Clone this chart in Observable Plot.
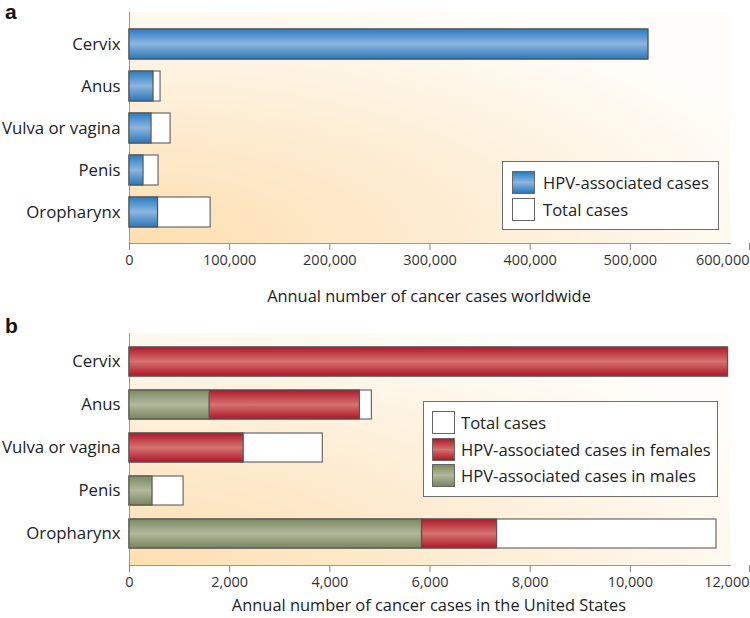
<!DOCTYPE html>
<html><head><meta charset="utf-8">
<script src="https://cdn.jsdelivr.net/npm/d3@7"></script>
<script src="https://cdn.jsdelivr.net/npm/@observablehq/plot@0.6"></script>
<style>
body{margin:0;background:#fff;font-family:"Open Sans",sans-serif;}
#wrap{position:relative;width:750px;height:618px;overflow:hidden;background:#fff}
.panel{position:absolute;left:0;width:750px}
.letter{position:absolute;font-family:"Liberation Sans",Arial,sans-serif;font-weight:bold;font-size:21px;color:#111;line-height:1}
.title{position:absolute;left:129px;width:600px;text-align:center;font-size:16.4px;color:#222;line-height:1}
.legend{position:absolute;background:#fff;border:1px solid #6e6e6e;box-sizing:border-box}
.row{position:absolute;height:23px;display:flex;align-items:center;font-size:16.6px;color:#222;white-space:nowrap}
.sw{width:21px;height:21px;border:1px solid #666;flex:none}
</style></head>
<body><div id="wrap"></div>
<script>
const categories = ["Cervix","Anus","Vulva or vagina","Penis","Oropharynx"];
// Panel a: worldwide
const worldHPV   = [518000, 24000, 22000, 14000, 28500];
const worldTotal = [518000, 31000, 41000, 29000, 81000];
const worldTicks = [0,100000,200000,300000,400000,500000,600000];
// Panel b: United States
const usMales   = [0, 1600, 0, 460, 5840];
const usFemales = [11950, 3000, 2280, 0, 1500];
const usTotal   = [11950, 4840, 3860, 1080, 11720];
const usTicks   = [0,2000,4000,6000,8000,10000,12000];

const titleA = "Annual number of cancer cases worldwide";
const titleB = "Annual number of cancer cases in the United States";
const legendA = ["HPV-associated cases","Total cases"];
const legendB = ["Total cases","HPV-associated cases in females","HPV-associated cases in males"];

const tableA = categories.map((c,i)=>({cat:c, hpv:worldHPV[i], total:worldTotal[i]}));
const tableB = categories.map((c,i)=>({cat:c, male:usMales[i], femaleEnd:usMales[i]+usFemales[i], female:usFemales[i], total:usTotal[i]}));

function defs(prefix){
  return () => {
    const g = document.createElementNS("http://www.w3.org/2000/svg","g");
    g.innerHTML = `<defs>
      <radialGradient id="${prefix}bg" cx="0" cy="1" r="1.15" fx="0" fy="1">
        <stop offset="0" stop-color="#fddfb0"/>
        <stop offset="0.5" stop-color="#fdedd4"/>
        <stop offset="1" stop-color="#fffdf9"/>
      </radialGradient>
      <linearGradient id="${prefix}blue" x1="0" y1="0" x2="0" y2="1">
        <stop offset="0" stop-color="#2a7cc2"/>
        <stop offset="0.5" stop-color="#8db5df"/>
        <stop offset="1" stop-color="#2a77b9"/>
      </linearGradient>
      <linearGradient id="${prefix}red" x1="0" y1="0" x2="0" y2="1">
        <stop offset="0" stop-color="#b0172a"/>
        <stop offset="0.5" stop-color="#d4736f"/>
        <stop offset="1" stop-color="#ad1828"/>
      </linearGradient>
      <linearGradient id="${prefix}green" x1="0" y1="0" x2="0" y2="1">
        <stop offset="0" stop-color="#7b8961"/>
        <stop offset="0.5" stop-color="#b2b99b"/>
        <stop offset="1" stop-color="#78855d"/>
      </linearGradient></defs>`;
    return g;
  };
}

const common = {
  width: 750, marginLeft: 129, marginRight: 20,
  style: {fontFamily: "'Open Sans', sans-serif", background: "transparent", overflow: "visible"}
};

function xAxes(ticks){
  const last = ticks[ticks.length - 1];
  return [
    Plot.axisX(ticks.slice(0, -1), {tickSize: 7, tickPadding: 4, stroke: "#888", tickFormat: d3.format(","), fontSize: 14.5, color: "#333", label: null}),
    Plot.axisX([last], {tickSize: 7, tickPadding: 4, stroke: "#888", tickFormat: d3.format(","), fontSize: 14.5, color: "#333", label: null, textAnchor: "end", dx: 19})
  ];
}
const yAxis = () => Plot.axisY({tickSize: 0, tickPadding: 9, fontSize: 16.8, color: "#222", label: null});

const plotA = Plot.plot({
  ...common, height: 310, marginTop: 12, marginBottom: 67,
  x: {domain: [0, 600000]},
  y: {domain: categories, paddingInner: 0.294, paddingOuter: 0.365},
  marks: [
    defs("a"),
    Plot.rect([0], {x1: 0, x2: 600000, fill: "url(#abg)"}),
    Plot.ruleX([0], {stroke: "#999"}),
    Plot.frame({anchor: "bottom", stroke: "#999"}),
    Plot.barX(tableA, {y: "cat", x1: d => 0, x2: "total", fill: "white", stroke: "#6a6a6a", strokeWidth: 1.2}),
    Plot.barX(tableA, {y: "cat", x1: d => 0, x2: "hpv", fill: "url(#ablue)", stroke: "#555", strokeWidth: 1.2}),
    ...xAxes(worldTicks),
    yAxis()
  ]
});

const plotB = Plot.plot({
  ...common, height: 308, marginTop: 23, marginBottom: 53,
  x: {domain: [0, 12000]},
  y: {domain: categories, paddingInner: 0.314, paddingOuter: 0.309, align: 0.47},
  marks: [
    defs("b"),
    Plot.rect([0], {x1: 0, x2: 12000, fill: "url(#bbg)"}),
    Plot.ruleX([0], {stroke: "#999"}),
    Plot.frame({anchor: "bottom", stroke: "#999"}),
    Plot.barX(tableB, {y: "cat", x1: d => 0, x2: "total", fill: "white", stroke: "#6a6a6a", strokeWidth: 1.2}),
    Plot.barX(tableB.filter(d => d.female > 0), {y: "cat", x1: "male", x2: "femaleEnd", fill: "url(#bred)", stroke: "#555", strokeWidth: 1.2}),
    Plot.barX(tableB.filter(d => d.male > 0), {y: "cat", x1: d => 0, x2: "male", fill: "url(#bgreen)", stroke: "#555", strokeWidth: 1.2}),
    ...xAxes(usTicks),
    yAxis()
  ]
});

const wrap = document.getElementById("wrap");
function place(el, top){ const d = document.createElement("div"); d.className = "panel"; d.style.top = top + "px"; d.appendChild(el); wrap.appendChild(d); }
place(plotA, 0);
place(plotB, 310);

function add(html){ const t = document.createElement("template"); t.innerHTML = html.trim(); const el = t.content.firstChild; wrap.appendChild(el); return el; }
add(`<div class="letter" style="left:5px;top:1px">a</div>`);
add(`<div class="letter" style="left:5px;top:315px">b</div>`);
add(`<div class="title" style="top:288px">${titleA}</div>`);
add(`<div class="title" style="top:597px">${titleB}</div>`);

const swA = ["linear-gradient(#2a7cc2,#8db5df,#2a77b9)", "#fff"];
const legA = add(`<div class="legend" style="left:502px;top:161px;width:217px;height:69px"></div>`);
legendA.forEach((t,i) => {
  const r = document.createElement("div"); r.className = "row"; r.style.left = "9px"; r.style.top = (9 + i*27) + "px";
  r.innerHTML = `<span class="sw" style="background:${swA[i]};margin-right:8px"></span><span>${t}</span>`;
  legA.appendChild(r);
});
const swB = ["#fff", "linear-gradient(#b0172a,#d4736f,#ad1828)", "linear-gradient(#7b8961,#b2b99b,#78855d)"];
const legB = add(`<div class="legend" style="left:423px;top:401px;width:295px;height:96px"></div>`);
legendB.forEach((t,i) => {
  const r = document.createElement("div"); r.className = "row"; r.style.left = "8px"; r.style.top = (9 + i*26.5) + "px";
  r.innerHTML = `<span class="sw" style="background:${swB[i]};margin-right:6px"></span><span>${t}</span>`;
  legB.appendChild(r);
});
</script></body></html>
